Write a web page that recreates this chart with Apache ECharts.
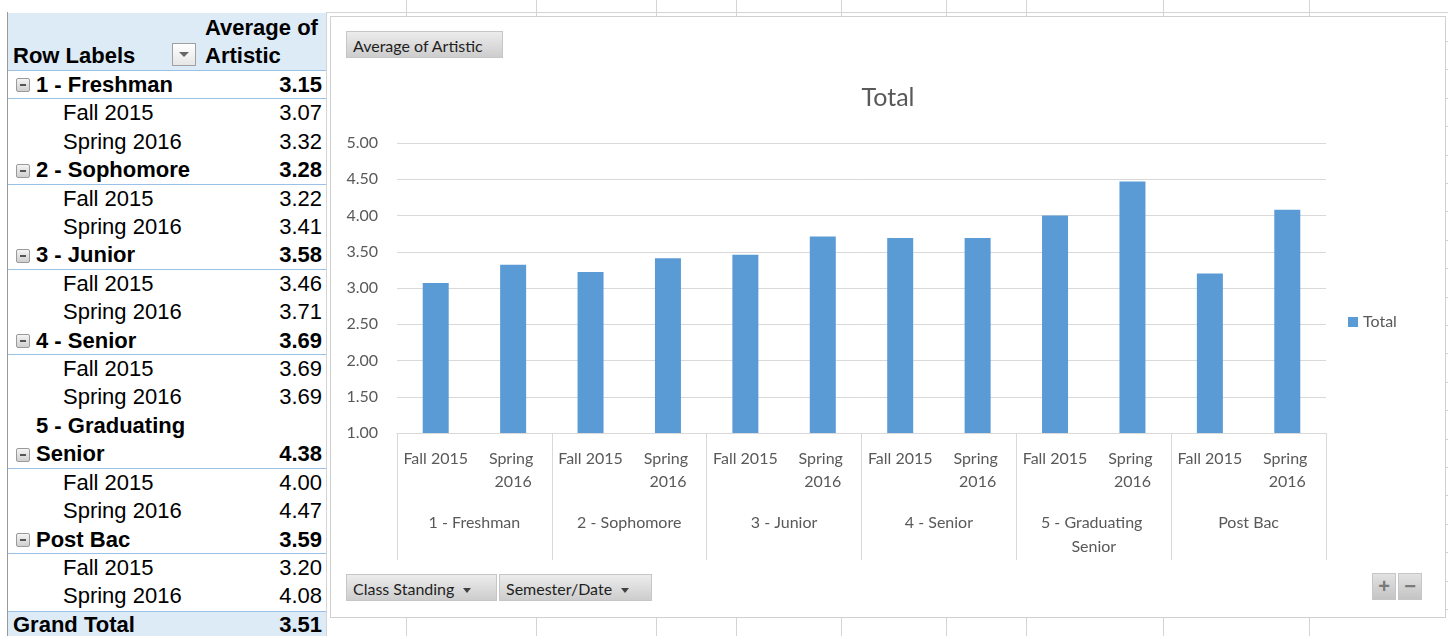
<!DOCTYPE html>
<html>
<head>
<meta charset="utf-8">
<title>Average of Artistic</title>
<script src="https://cdn.jsdelivr.net/npm/echarts@6/dist/echarts.min.js"></script>
<style>
  html, body { margin: 0; padding: 0; background: #fff; }
  body { width: 1448px; height: 636px; overflow: hidden; position: relative;
         font-family: "Liberation Sans", Arial, sans-serif; }
  .gl { position: absolute; background: #d4d4d4; }
  /* pivot table */
  #pivotHead { position: absolute; left: 8px; top: 13px; width: 318px; height: 57px;
               background: #DDEBF7; border-bottom: 1px solid #9BC2E6; font-size: 22px;
               font-weight: bold; line-height: 28px; }
  #pivotHead .rl { position: absolute; left: 5px; top: 29px; }
  #pivotHead .val { position: absolute; left: 197px; top: 1px; }
  #pivotHead .dd { position: absolute; left: 164px; top: 30px; width: 22px; height: 21px;
                   border: 1px solid #a0a0a0; background: linear-gradient(#ffffff, #e6e6e6); }
  #pivotHead .dd::after { content: ""; position: absolute; left: 6px; top: 8px;
                   border-left: 5px solid transparent; border-right: 5px solid transparent;
                   border-top: 5px solid #666; }
  #pivotBody { position: absolute; left: 8px; top: 71px; width: 318px; font-size: 22px;
               line-height: 28.4px; color: #000; }
  #pivotBorder { position: absolute; left: 7px; top: 12px; width: 1px; height: 624px; background: #9a9a9a; }
  .row { position: relative; display: flex; align-items: flex-end; background: #fff; }
  .row .lab { width: 170px; white-space: normal; }
  .row .num { flex: 1; text-align: right; padding-right: 4px; }
  .row.grp { font-weight: bold; box-shadow: inset 0 -1px 0 #9BC2E6; }
  .row.grp .lab { padding-left: 28px; width: 162px; }
  .row.child .lab { padding-left: 55px; width: 160px; white-space: nowrap; }
  .row.total { font-weight: bold; background: #DDEBF7; box-shadow: inset 0 1px 0 #9BC2E6; }
  .row.total .lab { padding-left: 5px; }
  .minus { position: absolute; left: 8px; bottom: 7px; width: 12px; height: 12px;
           border: 1px solid #9a9a9a; border-radius: 2px;
           background: linear-gradient(#f4f4f4, #cfcfcf); }
  .minus::after { content: ""; position: absolute; left: 3px; top: 5px; width: 6px; height: 2px; background: #555; }
  /* chart frame and field buttons */
  #frame { position: absolute; left: 330px; top: 16px; width: 1114px; height: 600px;
           border: 1px solid #d0d0d0; background: #fff; }
  #chart { width: 1114px; height: 600px; }
  .btn { position: absolute; height: 27px; line-height: 27px; box-sizing: border-box;
         border: 1px solid #c6c6c6; background: linear-gradient(#ececec, #cdcdcd);
         font-family: Lato, "Open Sans", sans-serif; font-size: 16px; color: #1f1f1f;
         padding-left: 6px; white-space: nowrap; }
  .btn .tri { display: inline-block; margin-left: 9px; vertical-align: middle;
              border-left: 4px solid transparent; border-right: 4px solid transparent;
              border-top: 5px solid #404040; }
  .zbtn { position: absolute; top: 573px; width: 24px; height: 27px; box-sizing: border-box;
          border: 1px solid #c6c6c6; background: linear-gradient(#e2e2e2, #c4c4c4);
          color: #7a7a7a; font: bold 20px "Liberation Sans", Arial, sans-serif;
          text-align: center; line-height: 25px; }
</style>
</head>
<body>
<div id="sheet"></div>
<div id="pivotBorder"></div>
<div id="pivotHead">
  <div class="rl">Row Labels</div>
  <div class="dd"></div>
  <div class="val">Average of<br>Artistic</div>
</div>
<div id="pivotBody"></div>
<div id="frame"><div id="chart"></div></div>
<div class="btn" style="left:346px;top:31px;width:157px;">Average of Artistic</div>
<div class="btn" style="left:346px;top:574px;width:151px;">Class Standing<span class="tri"></span></div>
<div class="btn" style="left:499px;top:574px;width:153px;">Semester/Date<span class="tri"></span></div>
<div class="zbtn" style="left:1372px;">+</div>
<div class="zbtn" style="left:1398px;">&minus;</div>

<script>
// Pivot data: average "Artistic" score by class standing and semester
const classStanding = ['1 - Freshman', '2 - Sophomore', '3 - Junior', '4 - Senior', '5 - Graduating Senior', 'Post Bac'];
const semesters = ['Fall 2015', 'Spring 2016'];
const fallValues = [3.07, 3.22, 3.46, 3.69, 4.00, 3.20];
const springValues = [3.32, 3.41, 3.71, 3.69, 4.47, 4.08];
const groupAverages = [3.15, 3.28, 3.58, 3.69, 4.38, 3.59];
const grandTotal = 3.51;
const seriesName = 'Total';
const yMin = 1, yMax = 5, yStep = 0.5;

// Worksheet column gridlines peeking out above and below the chart
const sheetCols = [406, 536, 656, 736, 841, 946, 1026, 1163, 1309];
const sheet = document.getElementById('sheet');
function line(l, t, w, h) {
  const d = document.createElement('div');
  d.className = 'gl';
  d.style.cssText = `left:${l}px;top:${t}px;width:${w}px;height:${h}px`;
  sheet.appendChild(d);
}
line(327, 12, 1121, 1);
line(326, 12, 1, 624);
sheetCols.forEach(x => { line(x, 0, 1, 16); line(x, 618, 1, 18); });
for (let y = 41; y < 636; y += 28.4) line(1445, Math.round(y), 3, 1);

// Pivot table rows
const body = document.getElementById('pivotBody');
function addRow(cls, label, value, icon) {
  const r = document.createElement('div');
  r.className = 'row ' + cls;
  if (icon) { const m = document.createElement('div'); m.className = 'minus'; r.appendChild(m); }
  const l = document.createElement('div'); l.className = 'lab'; l.textContent = label;
  const v = document.createElement('div'); v.className = 'num'; v.textContent = value;
  r.appendChild(l); r.appendChild(v);
  body.appendChild(r);
}
classStanding.forEach((g, i) => {
  addRow('grp', g, groupAverages[i].toFixed(2), true);
  addRow('child', semesters[0], fallValues[i].toFixed(2), false);
  addRow('child', semesters[1], springValues[i].toFixed(2), false);
});
addRow('total', 'Grand Total', grandTotal.toFixed(2), false);

// Chart: two-level category axis (semester inside class standing)
const semesterCats = [];
const barValues = [];
classStanding.forEach((g, i) => {
  semesterCats.push(g + '|' + semesters[0], g + '|' + semesters[1]);
  barValues.push(fallValues[i], springValues[i]);
});

const txt = '#595959';
const font = 'Lato, "Open Sans", sans-serif';
const chart = echarts.init(document.getElementById('chart'));
chart.setOption({
  animation: false,
  textStyle: { fontFamily: font },
  title: {
    text: seriesName, left: 'center', top: 63,
    textStyle: { fontFamily: font, fontSize: 25, fontWeight: 'normal', color: txt }
  },
  legend: {
    data: [seriesName], orient: 'vertical', left: 1012, top: 292,
    icon: 'rect', itemWidth: 10, itemHeight: 10, itemGap: 4,
    textStyle: { fontFamily: font, fontSize: 16, color: txt }
  },
  grid: { left: 66, right: 119, top: 126, bottom: 184, containLabel: false },
  xAxis: [
    {
      type: 'category', data: semesterCats, position: 'bottom',
      axisLine: { show: true, lineStyle: { color: '#d9d9d9', width: 1 } },
      axisTick: { show: false },
      axisLabel: {
        interval: 0, margin: 14, color: txt, fontFamily: font, fontSize: 16,
        lineHeight: 23, width: 76, overflow: 'break',
        formatter: v => v.split('|')[1]
      }
    },
    {
      type: 'category', data: classStanding, position: 'bottom', offset: 0,
      axisLine: { show: false },
      axisTick: { show: true, interval: 0, length: 127, lineStyle: { color: '#d9d9d9', width: 1 } },
      axisLabel: {
        interval: 0, margin: 78, color: txt, fontFamily: font, fontSize: 16,
        lineHeight: 24, width: 150, overflow: 'break'
      }
    }
  ],
  yAxis: {
    type: 'value', min: yMin, max: yMax, interval: yStep,
    axisLine: { show: false }, axisTick: { show: false },
    splitLine: { lineStyle: { color: '#d9d9d9', width: 1 } },
    axisLabel: { margin: 19, color: txt, fontFamily: font, fontSize: 16, formatter: v => v.toFixed(2) }
  },
  series: [{
    name: seriesName, type: 'bar', xAxisIndex: 0, data: barValues,
    barWidth: 26, itemStyle: { color: '#5B9BD5' }
  }]
});
</script>
</body>
</html>
